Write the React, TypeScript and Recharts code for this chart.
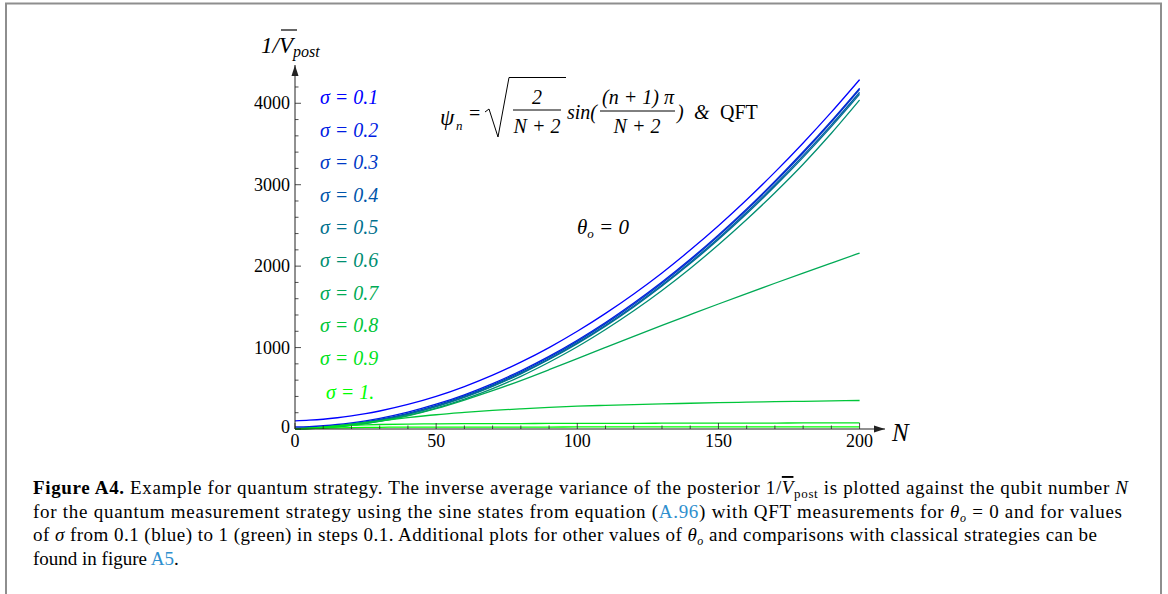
import React from 'react';
import { LineChart, Line, XAxis, YAxis, ReferenceDot } from 'recharts';

// Qubit number N at which each curve is sampled
const N_VALUES = [0, 5, 10, 15, 20, 25, 30, 40, 50, 60, 70, 80, 90, 100, 110, 120, 130, 140, 150, 160, 170, 180, 190, 200];

// Inverse average posterior variance 1/V_post for each prior width sigma
const INV_V_SIGMA_01 = [100, 108, 120, 138, 161, 188, 221, 301, 400, 521, 661, 821, 1000, 1200, 1420, 1659, 1917, 2197, 2496, 2815, 3154, 3513, 3891, 4290];
const INV_V_SIGMA_02 = [25, 30, 40, 55, 76, 101, 131, 207, 304, 420, 557, 715, 892, 1090, 1308, 1547, 1805, 2084, 2384, 2703, 3043, 3404, 3784, 4185];
const INV_V_SIGMA_03 = [11, 16, 26, 41, 62, 87, 117, 193, 290, 406, 543, 701, 878, 1076, 1294, 1533, 1791, 2070, 2370, 2689, 3029, 3390, 3770, 4171];
const INV_V_SIGMA_04 = [6, 11, 20, 35, 55, 79, 109, 184, 279, 394, 530, 686, 862, 1058, 1275, 1511, 1768, 2046, 2343, 2661, 2999, 3357, 3735, 4134];
const INV_V_SIGMA_05 = [4, 8, 18, 32, 51, 76, 105, 179, 274, 388, 523, 678, 853, 1048, 1263, 1499, 1755, 2031, 2327, 2643, 2980, 3336, 3713, 4110];
const INV_V_SIGMA_06 = [3, 6, 14, 27, 45, 68, 96, 166, 256, 366, 496, 647, 820, 1010, 1222, 1452, 1702, 1972, 2262, 2572, 2902, 3252, 3632, 4040];
const INV_V_SIGMA_07 = [2, 6, 14, 27, 45, 67, 93, 162, 250, 355, 470, 595, 728, 865, 1002, 1138, 1272, 1404, 1535, 1663, 1790, 1915, 2038, 2160];
const INV_V_SIGMA_08 = [2, 8, 22, 40, 60, 80, 100, 140, 175, 203, 228, 248, 265, 280, 291, 300, 308, 316, 323, 329, 335, 340, 345, 350];
const INV_V_SIGMA_09 = [1, 10, 24, 36, 45, 51, 55, 60, 63, 65, 66, 67, 68, 69, 70, 70, 71, 72, 72, 73, 73, 74, 74, 75];
const INV_V_SIGMA_10 = [1, 5, 11, 15, 18, 20, 21, 23, 23, 24, 24, 24, 24, 25, 25, 25, 25, 25, 25, 26, 26, 26, 26, 26];

const SERIES = [
  INV_V_SIGMA_01, INV_V_SIGMA_02, INV_V_SIGMA_03, INV_V_SIGMA_04, INV_V_SIGMA_05,
  INV_V_SIGMA_06, INV_V_SIGMA_07, INV_V_SIGMA_08, INV_V_SIGMA_09, INV_V_SIGMA_10,
];
const SIGMA_LABELS = ['0.1', '0.2', '0.3', '0.4', '0.5', '0.6', '0.7', '0.8', '0.9', '1.'];

// Blend from blue (sigma = 0.1) to green (sigma = 1)
const SERIES_COLORS = ['#0000ff', '#001ce3', '#0039c6', '#0055aa', '#00718e', '#008e71', '#00aa55', '#00c639', '#00e31c', '#00ff00'];

const X_TICKS = [0, 10, 20, 30, 40, 50, 60, 70, 80, 90, 100, 110, 120, 130, 140, 150, 160, 170, 180, 190, 200];
const X_TICK_LABELS = [0, 50, 100, 150, 200];
const Y_TICKS = [0, 200, 400, 600, 800, 1000, 1200, 1400, 1600, 1800, 2000, 2200, 2400, 2600, 2800, 3000, 3200, 3400, 3600, 3800, 4000, 4200];
const Y_TICK_LABELS = [0, 1000, 2000, 3000, 4000];

const X_MAX = 209;
const Y_MAX = 4470;

const rows = N_VALUES.map((n, i) => {
  const row: Record<string, number> = { N: n };
  SERIES.forEach((s, k) => {
    row['s' + k] = s[i];
  });
  return row;
});

const SERIF = '"Liberation Serif", "Times New Roman", serif';
const AXIS_COLOR = '#222';

const XTick = (props: any) => {
  const { x, y, payload } = props;
  const major = X_TICK_LABELS.includes(payload.value);
  return (
    <g>
      <line x1={x} x2={x} y1={y} y2={y - (major ? 6 : 3.5)} stroke={AXIS_COLOR} strokeWidth={0.8} />
      {major && (
        <text x={x} y={y + 18} textAnchor="middle" fontFamily={SERIF} fontSize={18} fill="#000">
          {payload.value}
        </text>
      )}
    </g>
  );
};

const YTick = (props: any) => {
  const { x, y, payload } = props;
  const major = Y_TICK_LABELS.includes(payload.value);
  return (
    <g>
      <line x1={x} x2={x + (major ? 6 : 3.5)} y1={y} y2={y} stroke={AXIS_COLOR} strokeWidth={0.8} />
      {major && (
        <text x={x - 5} y={y + (payload.value === 0 ? 4 : 6)} textAnchor="end" fontFamily={SERIF} fontSize={18} fill="#000">
          {payload.value}
        </text>
      )}
    </g>
  );
};

const RightArrow = (p: any) => (
  <path d={`M${p.cx} ${p.cy} L${p.cx - 11} ${p.cy - 3.5} L${p.cx - 11} ${p.cy + 3.5} Z`} fill={AXIS_COLOR} />
);
const UpArrow = (p: any) => (
  <path d={`M${p.cx} ${p.cy} L${p.cx - 3.5} ${p.cy + 11} L${p.cx + 3.5} ${p.cy + 11} Z`} fill={AXIS_COLOR} />
);

const LINK = '#2f8fce';

export default function App() {
  return (
    <div style={{ position: 'absolute', left: 0, top: 0, width: 1168, height: 594, background: '#fff' }}>
      <div style={{ position: 'absolute', left: 0, top: 0 }}>
        <LineChart
          width={1168}
          height={594}
          data={rows}
          margin={{ top: 65, right: 283, bottom: 135, left: 235 }}
        >
          <XAxis
            dataKey="N"
            type="number"
            domain={[0, X_MAX]}
            ticks={X_TICKS}
            interval={0}
            tickLine={false}
            tickSize={0}
            tickMargin={0}
            height={30}
            axisLine={{ stroke: AXIS_COLOR, strokeWidth: 1 }}
            tick={<XTick />}
          />
          <YAxis
            type="number"
            domain={[0, Y_MAX]}
            ticks={Y_TICKS}
            interval={0}
            tickLine={false}
            tickSize={0}
            tickMargin={0}
            width={60}
            axisLine={{ stroke: AXIS_COLOR, strokeWidth: 1 }}
            tick={<YTick />}
          />
          {SERIES.map((_, k) => (
            <Line
              key={k}
              dataKey={'s' + k}
              type="monotone"
              stroke={SERIES_COLORS[k]}
              strokeWidth={1.3}
              dot={false}
              isAnimationActive={false}
            />
          ))}
          <ReferenceDot x={X_MAX} y={0} r={0} ifOverflow="visible" shape={RightArrow} />
          <ReferenceDot x={0} y={Y_MAX} r={0} ifOverflow="visible" shape={UpArrow} />
        </LineChart>
      </div>

      <svg
        width={1168}
        height={594}
        style={{ position: 'absolute', left: 0, top: 0, pointerEvents: 'none' }}
      >
        {/* page frame */}
        <path d="M6 594 L6 3.5 L1161 3.5 L1161 594" fill="none" stroke="#8e8e8e" strokeWidth={2} />

        {/* axis titles */}
        <g fontFamily={SERIF} fontStyle="italic" fill="#000">
          <text x={261} y={53} fontSize={23}>
            1/V
            <tspan fontSize={16} dy={4}>post</tspan>
          </text>
          <line x1={281} x2={297} y1={30} y2={30} stroke="#000" strokeWidth={1.2} />
          <text x={892} y={441} fontSize={25}>N</text>
        </g>

        {/* sigma labels */}
        <g fontFamily={SERIF} fontStyle="italic" fontSize={20}>
          {SIGMA_LABELS.map((s, k) => (
            <text
              key={s}
              x={k === 9 ? 326 : 320}
              y={104 + k * 32.6 + (k === 9 ? 2 : 0)}
              fill={SERIES_COLORS[k]}
            >
              {'σ = ' + s}
            </text>
          ))}
        </g>

        {/* state formula */}
        <g fontFamily={SERIF} fontStyle="italic" fontSize={20} fill="#000">
          <text x={440} y={125} fontSize={23}>ψ</text>
          <text x={456} y={130} fontSize={13}>n</text>
          <text x={469} y={120} fontStyle="normal">=</text>
          <path d="M485 112 L489 109 L498 137 L509 77.5 L566 77.5" stroke="#000" strokeWidth={1} fill="none" />
          <text x={537} y={104} textAnchor="middle">2</text>
          <line x1={513} x2={561} y1={110} y2={110} stroke="#000" strokeWidth={1} />
          <text x={537} y={133} textAnchor="middle">N + 2</text>
          <text x={567} y={119}>sin(</text>
          <text x={638} y={104} textAnchor="middle">(n + 1) π</text>
          <line x1={600} x2={675} y1={111} y2={111} stroke="#000" strokeWidth={1} />
          <text x={637} y={133} textAnchor="middle">N + 2</text>
          <text x={677} y={119}>)</text>
          <text x={694} y={119}>&amp;</text>
          <text x={720} y={119} fontStyle="normal">QFT</text>
          <text x={577} y={234} fontSize={21}>
            θ<tspan fontSize={13} dy={4}>o</tspan>
            <tspan dy={-4}> = 0</tspan>
          </text>
        </g>

        {/* caption */}
        <g fontFamily={SERIF} fontSize={19} fill="#000">
          <text x={33} y={494} textLength={1095} lengthAdjust="spacing">
            <tspan fontWeight="bold">Figure A4.</tspan> Example for quantum strategy. The inverse average variance of the posterior 1/
            <tspan fontStyle="italic" style={{ textDecoration: 'overline' }}>V</tspan>
            <tspan fontSize={13} dy={4}>post</tspan>
            <tspan dy={-4}> is plotted against the qubit number </tspan>
            <tspan fontStyle="italic">N</tspan>
          </text>
          <text x={33} y={517.5} textLength={1089} lengthAdjust="spacing">
            for the quantum measurement strategy using the sine states from equation (<tspan fill={LINK}>A.96</tspan>) with QFT measurements for{' '}
            <tspan fontStyle="italic">θ</tspan>
            <tspan fontStyle="italic" fontSize={12} dy={4}>o</tspan>
            <tspan dy={-4}> = 0 and for values</tspan>
          </text>
          <text x={33} y={541} textLength={1064} lengthAdjust="spacing">
            of <tspan fontStyle="italic">σ</tspan> from 0.1 (blue) to 1 (green) in steps 0.1. Additional plots for other values of{' '}
            <tspan fontStyle="italic">θ</tspan>
            <tspan fontStyle="italic" fontSize={12} dy={4}>o</tspan>
            <tspan dy={-4}> and comparisons with classical strategies can be</tspan>
          </text>
          <text x={33} y={564.5}>
            found in figure <tspan fill={LINK}>A5</tspan>.
          </text>
        </g>
      </svg>
    </div>
  );
}
